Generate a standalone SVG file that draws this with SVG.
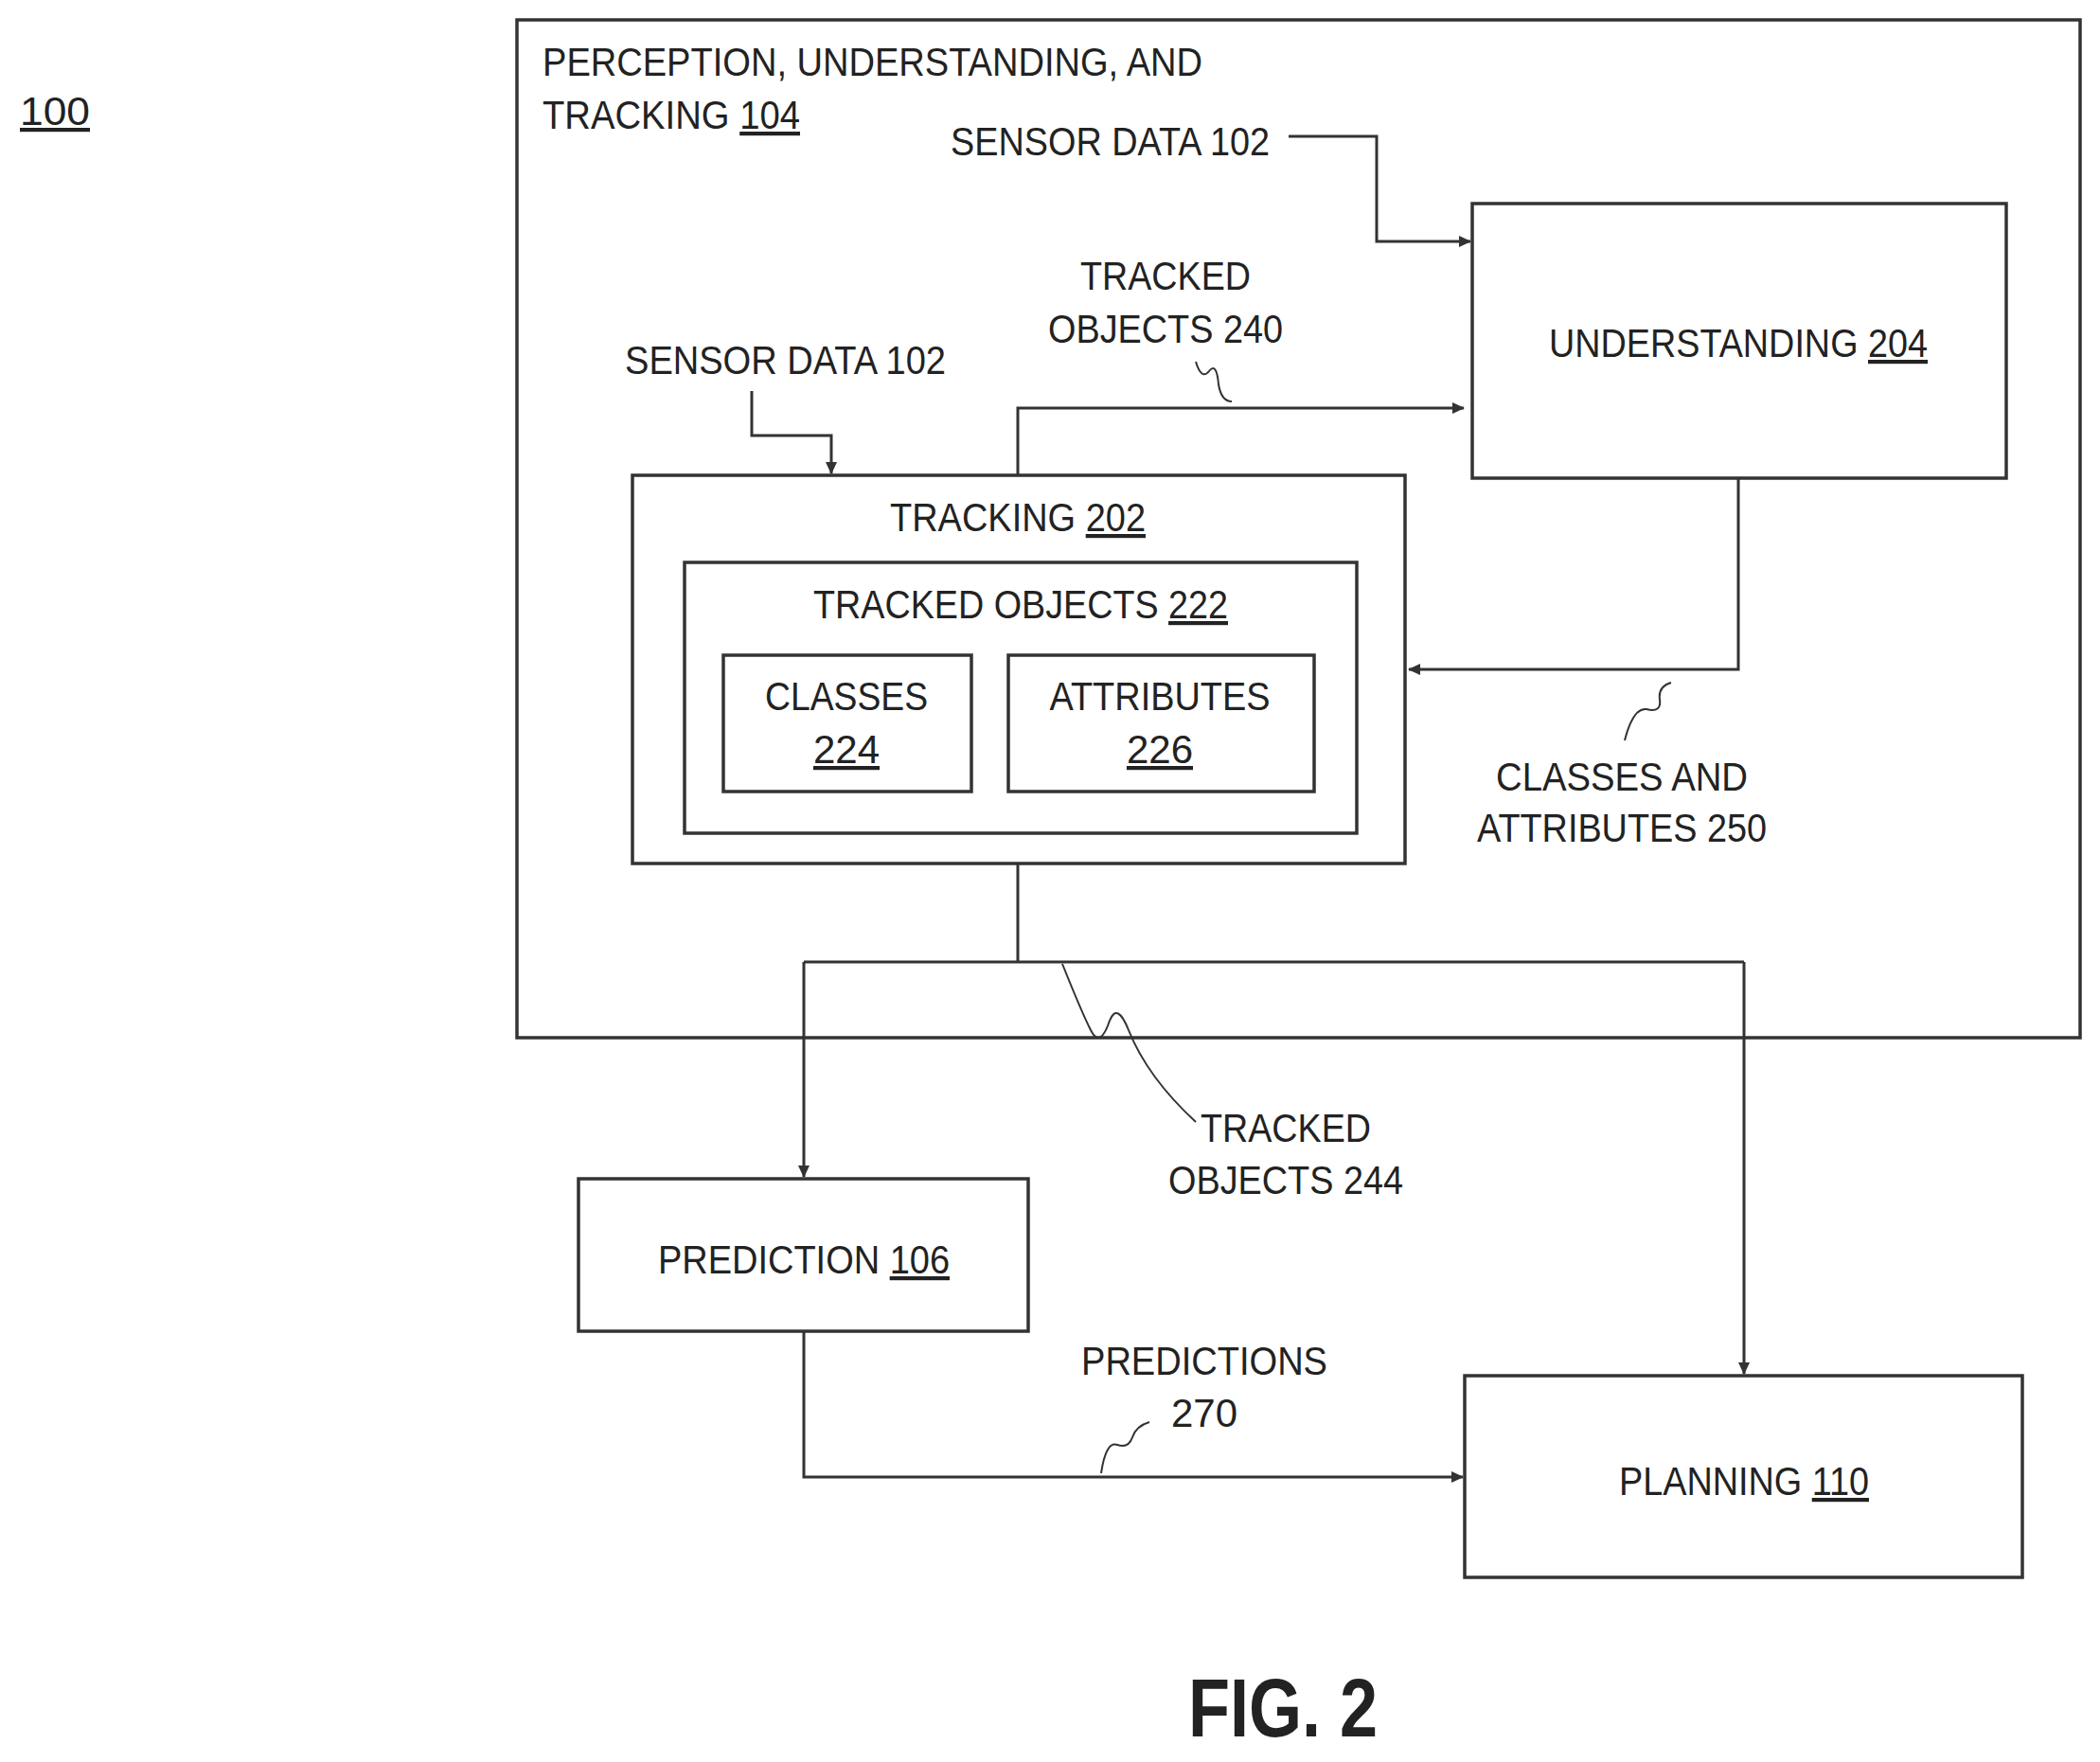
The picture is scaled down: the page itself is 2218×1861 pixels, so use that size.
<svg xmlns="http://www.w3.org/2000/svg" width="2218" height="1861" viewBox="0 0 2218 1861">
<style>
text{font-family:"Liberation Sans",Arial,sans-serif;font-size:42px;fill:#222}
.c{text-anchor:middle}
.u{text-decoration:underline}
rect{fill:none;stroke:#333;stroke-width:3.5}
.l{fill:none;stroke:#333;stroke-width:3}
.s{fill:none;stroke:#333;stroke-width:2}
</style>
<defs><marker id="a" markerWidth="14" markerHeight="14" refX="12" refY="7" orient="auto" markerUnits="userSpaceOnUse"><path d="M0,1 L13,7 L0,13 Z" fill="#333"/></marker></defs>
<text x="21" y="132" class="u" textLength="74" lengthAdjust="spacingAndGlyphs">100</text>
<g id="perception"><rect x="546" y="21" width="1651" height="1075"/>
<text x="573" y="80" textLength="697" lengthAdjust="spacingAndGlyphs">PERCEPTION, UNDERSTANDING, AND</text>
<text x="573" y="136" textLength="272" lengthAdjust="spacingAndGlyphs">TRACKING <tspan class="u">104</tspan></text></g>
<g id="understanding"><rect x="1555" y="215" width="564" height="290"/>
<text x="1836" y="377" class="c" textLength="400" lengthAdjust="spacingAndGlyphs">UNDERSTANDING <tspan class="u">204</tspan></text></g>
<g id="tracking"><rect x="668" y="502" width="816" height="410"/>
<text x="1075" y="561" class="c" textLength="270" lengthAdjust="spacingAndGlyphs">TRACKING <tspan class="u">202</tspan></text></g>
<g id="trackedobjects"><rect x="723" y="594" width="710" height="286"/>
<text x="1078" y="653" class="c" textLength="438" lengthAdjust="spacingAndGlyphs">TRACKED OBJECTS <tspan class="u">222</tspan></text></g>
<g id="classes"><rect x="764" y="692" width="262" height="144"/>
<text x="894" y="750" class="c" textLength="172" lengthAdjust="spacingAndGlyphs">CLASSES</text>
<text x="894" y="806" class="c u">224</text></g>
<g id="attributes"><rect x="1065" y="692" width="323" height="144"/>
<text x="1225" y="750" class="c" textLength="233" lengthAdjust="spacingAndGlyphs">ATTRIBUTES</text>
<text x="1225" y="806" class="c u">226</text></g>
<g id="prediction"><rect x="611" y="1245" width="475" height="161"/>
<text x="849" y="1345" class="c" textLength="308" lengthAdjust="spacingAndGlyphs">PREDICTION <tspan class="u">106</tspan></text></g>
<g id="planning"><rect x="1547" y="1453" width="589" height="213"/>
<text x="1842" y="1579" class="c" textLength="264" lengthAdjust="spacingAndGlyphs">PLANNING <tspan class="u">110</tspan></text></g>
<g id="connectors">
<path class="l" d="M1361,144 H1454 V255 H1553" marker-end="url(#a)"/>
<path class="l" d="M794,413 V460 H878 V500" marker-end="url(#a)"/>
<path class="l" d="M1075,502 V431 H1546" marker-end="url(#a)"/>
<path class="l" d="M1836,505 V707 H1488" marker-end="url(#a)"/>
<path class="l" d="M1075,912 V1016 M849,1016 H1842 M849,1016 V1243" marker-end="url(#a)"/>
<path class="l" d="M1842,1016 V1451" marker-end="url(#a)"/>
<path class="l" d="M849,1406 V1560 H1545" marker-end="url(#a)"/>
<path class="s" d="M1263,382 q6,20 14,10 q8,-10 10,14 q3,18 14,18"/>
<path class="s" d="M1765,721 q-14,4 -12,18 q2,14 -14,10 q-14,-2 -23,33"/>
<path class="s" d="M1122,1018 q20,50 30,70 q10,20 20,-10 q8,-20 20,10 q20,50 71,97"/>
<path class="s" d="M1214,1502 q-14,4 -18,16 q-4,12 -16,8 q-12,-4 -17,30"/>
</g>
<text x="1004" y="164" textLength="337" lengthAdjust="spacingAndGlyphs">SENSOR DATA 102</text>
<text x="660" y="395" textLength="339" lengthAdjust="spacingAndGlyphs">SENSOR DATA 102</text>
<text x="1231" y="306" class="c" textLength="180" lengthAdjust="spacingAndGlyphs">TRACKED</text>
<text x="1231" y="362" class="c" textLength="248" lengthAdjust="spacingAndGlyphs">OBJECTS 240</text>
<text x="1713" y="835" class="c" textLength="266" lengthAdjust="spacingAndGlyphs">CLASSES AND</text>
<text x="1713" y="889" class="c" textLength="306" lengthAdjust="spacingAndGlyphs">ATTRIBUTES 250</text>
<text x="1358" y="1206" class="c" textLength="180" lengthAdjust="spacingAndGlyphs">TRACKED</text>
<text x="1358" y="1261" class="c" textLength="248" lengthAdjust="spacingAndGlyphs">OBJECTS 244</text>
<text x="1272" y="1452" class="c" textLength="260" lengthAdjust="spacingAndGlyphs">PREDICTIONS</text>
<text x="1272" y="1507" class="c">270</text>
<text x="1355" y="1834" class="c" style="font-size:88px;font-weight:bold" textLength="200" lengthAdjust="spacingAndGlyphs">FIG. 2</text>
</svg>
